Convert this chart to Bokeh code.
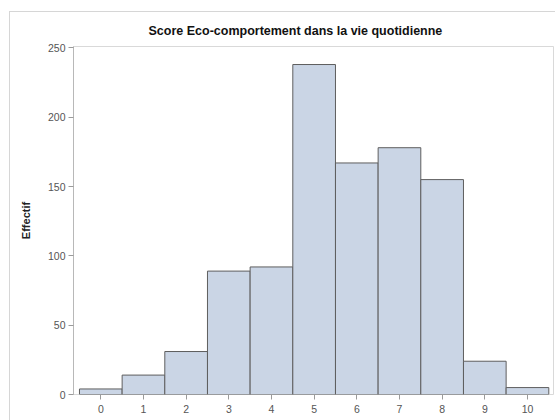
from bokeh.plotting import figure
from bokeh.models import ColumnDataSource, Range1d, FixedTicker
from bokeh.embed import file_html
from bokeh.resources import INLINE

scores = [0, 1, 2, 3, 4, 5, 6, 7, 8, 9, 10]
counts = [4, 14, 31, 89, 92, 238, 167, 178, 155, 24, 5]
title_text = "Score Eco-comportement dans la vie quotidienne"
y_label = "Effectif"
y_ticks = [0, 50, 100, 150, 200, 250]

FONT = "Liberation Sans"
W, H = 555, 420
FL, FT, FR, FB = 73, 46, 2, 26  # frame borders

p = figure(width=W, height=H, output_backend="svg", toolbar_location=None,
           x_range=Range1d(-0.64, 10.61), y_range=Range1d(0, 251),
           title=title_text)
p.min_border_left = FL
p.min_border_right = FR
p.min_border_top = FT
p.min_border_bottom = FB
p.background_fill_color = "white"
p.border_fill_color = None
p.outline_line_color = "#d9d9d9"
p.xgrid.visible = False
p.ygrid.visible = False
p.styles = {
    "background": ("linear-gradient(#d6d6d6,#d6d6d6) 9px 11px / 1px 100% no-repeat, "
                   "linear-gradient(#d6d6d6,#d6d6d6) 9px 11px / 100% 1px no-repeat, white"),
}

p.title.align = "left"
p.title.offset = 75
p.title.standoff = 17
p.title.text_font = FONT
p.title.text_font_size = "12.5px"
p.title.text_font_style = "bold"
p.title.text_color = "#111111"

src = ColumnDataSource(dict(x=scores, top=counts))
p.vbar(x="x", top="top", bottom=0, width=1, source=src,
       fill_color="#cad5e5", line_color="#5e5e5e", line_width=1)

for ax in (p.xaxis[0], p.yaxis[0]):
    ax.axis_line_color = "#b8b8b8"
    ax.major_tick_line_color = "#9a9a9a"
    ax.minor_tick_line_color = None
    ax.major_tick_in = 0
    ax.major_label_text_font = FONT
    ax.major_label_text_font_size = "10.5px"
    ax.major_label_text_color = "#555555"

p.xaxis.ticker = FixedTicker(ticks=scores)
p.xaxis.major_tick_out = 5
p.xaxis.major_label_standoff = 5
p.xaxis.axis_line_color = None

p.yaxis.ticker = FixedTicker(ticks=y_ticks)
p.yaxis.major_tick_out = 5
p.yaxis.major_label_standoff = 3
p.yaxis.axis_label = y_label
p.yaxis.axis_label_text_font = FONT
p.yaxis.axis_label_text_font_size = "11px"
p.yaxis.axis_label_text_font_style = "bold"
p.yaxis.axis_label_text_color = "#222222"
p.yaxis.axis_label_standoff = 13

open("out.html", "w").write(file_html(p, INLINE))
